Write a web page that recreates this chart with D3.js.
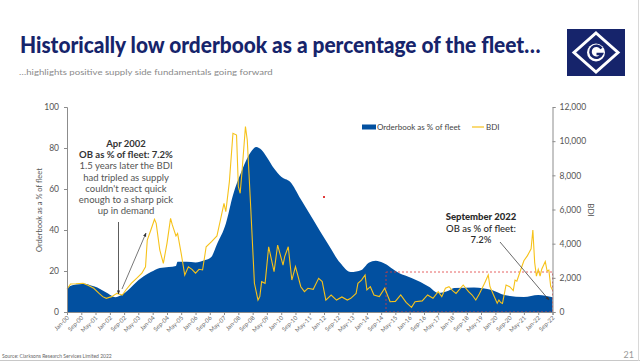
<!DOCTYPE html>
<html>
<head>
<meta charset="utf-8">
<script src="https://cdn.jsdelivr.net/npm/d3@7"></script>
<style>
  body { margin: 0; background: #fff; }
  svg { display: block; font-family: Lato, "Open Sans", sans-serif; }
</style>
</head>
<body>
<svg id="chart" width="640" height="361"></svg>
<script>
// Orderbook as % of fleet
const obDates = ["2000-01","2000-04","2000-08","2000-11","2001-03","2001-06","2001-09","2001-12","2002-04","2002-08",
  "2002-11","2003-02","2003-05","2003-08","2003-12","2004-05","2004-10","2005-02","2005-03","2005-08",
  "2006-01","2006-06","2006-10","2007-01","2007-06","2007-10","2008-03","2008-08","2008-11","2009-02",
  "2009-05","2009-09","2010-01","2010-06","2010-12","2011-07","2012-03","2012-10","2013-04","2013-10",
  "2014-02","2014-06","2014-10","2015-07","2016-02","2016-12","2017-05","2017-11","2018-02","2019-01",
  "2019-11","2020-06","2021-05","2022-01","2022-09"];
const obValues = [12,13,13.5,13.8,12.8,12,10.5,9,7.2,8.5,
  10.5,13,15.5,17.5,19.5,21.5,22,22.5,24.5,24.5,
  24.2,25.2,27,33,43,57,69,78,80.5,79,
  75.5,70,66,63.5,55,45,33.5,24,19.5,20.5,
  24,25,24,19,16.6,12.2,9.3,10.5,11.7,12,
  10.7,8.3,7.3,8.3,7.2];

// Baltic Dry Index
const bdiDates = ["2000-01","2000-03","2000-06","2000-10","2001-01","2001-04","2001-07","2001-09","2001-11","2002-02",
  "2002-05","2002-08","2002-10","2003-01","2003-04","2003-07","2003-09","2003-10","2003-12","2004-02",
  "2004-03","2004-05","2004-07","2004-09","2004-11","2004-12","2005-02","2005-03","2005-05","2005-07",
  "2005-09","2005-11","2006-01","2006-03","2006-05","2006-07","2006-10","2007-01","2007-03","2007-05",
  "2007-06","2007-08","2007-10","2007-12","2008-01","2008-02","2008-03","2008-05","2008-06","2008-08",
  "2008-10","2008-12","2009-01","2009-02","2009-04","2009-06","2009-09","2009-11","2010-02","2010-03",
  "2010-05","2010-07","2010-09","2010-12","2011-02","2011-04","2011-07","2011-10","2011-12","2012-02",
  "2012-05","2012-08","2012-11","2013-02","2013-04","2013-07","2013-08","2013-10","2013-12","2014-01",
  "2014-03","2014-05","2014-08","2014-11","2015-02","2015-05","2015-08","2015-11","2016-02","2016-04",
  "2016-08","2016-11","2017-02","2017-05","2017-07","2017-09","2017-11","2018-01","2018-03","2018-07",
  "2018-10","2018-12","2019-02","2019-04","2019-07","2019-09","2019-10","2019-12","2020-02","2020-03",
  "2020-04","2020-05","2020-07","2020-09","2020-11","2020-12","2021-01","2021-03","2021-05","2021-07",
  "2021-08","2021-09","2021-10","2021-11","2021-12","2022-01","2022-02","2022-03","2022-05","2022-06",
  "2022-07","2022-08","2022-09"];
const bdiValues = [1330,1640,1650,1680,1550,1390,1090,900,800,900,
  1090,995,1290,1680,1970,2270,2650,4215,4800,5425,
  5190,3630,2850,4020,5485,5100,4450,4600,3435,2165,
  2650,2500,2270,2500,2460,3820,4115,4450,5385,6360,
  5870,7630,10460,10360,7340,6950,8120,10850,10070,5970,
  1680,700,900,1775,1680,3820,2360,3920,2750,3240,
  3820,1870,2650,1480,1190,1390,1330,1970,1780,700,
  995,700,880,700,800,1090,1680,1870,2165,1290,
  1480,995,900,1390,600,620,995,560,275,600,
  650,995,800,1190,900,1390,1480,1250,1090,1580,
  1190,995,700,1050,1680,2165,1480,995,510,700,
  550,500,1580,1480,1250,1870,1800,2400,3000,3300,
  3500,3700,4800,2900,2100,2500,2100,2500,2950,2400,
  2450,1500,1290];

const xTickLabels = ["Jan-00","Sep-00","May-01","Jan-02","Sep-02","May-03","Jan-04","Sep-04","May-05","Jan-06",
  "Sep-06","May-07","Jan-08","Sep-08","May-09","Jan-10","Sep-10","May-11","Jan-12","Sep-12",
  "May-13","Jan-14","Sep-14","May-15","Jan-16","Sep-16","May-17","Jan-18","Sep-18","May-19",
  "Jan-20","Sep-20","May-21","Jan-22","Sep-22"];
const leftTicks = [0, 20, 40, 60, 80, 100];
const rightTicks = [0, 2000, 4000, 6000, 8000, 10000, 12000];

const navy = "#16246b", blue = "#0250a0", gold = "#f6c21a";
const parseMonth = d3.timeParse("%Y-%m");
const parseTick = d3.timeParse("%b-%y");

const ob = obDates.map((d, i) => ({ date: parseMonth(d), v: obValues[i] }));
const bdi = bdiDates.map((d, i) => ({ date: parseMonth(d), v: bdiValues[i] }));

const svg = d3.select("#chart");
const pL = 67, pR = 552.5, pT = 107, pB = 312;

const x = d3.scaleTime().domain([parseMonth("2000-01"), parseMonth("2022-09")]).range([pL, pR]);
const yL = d3.scaleLinear().domain([0, 100]).range([pB, pT]);
const yR = d3.scaleLinear().domain([0, 12000]).range([pB, pT]);

// header: squeeze the text horizontally to the width it has in the slide
function fitText(sel, width) {
  const w = sel.node().getComputedTextLength();
  const tx = +sel.attr("x"), ty = +sel.attr("y");
  sel.attr("x", 0).attr("y", 0).attr("transform", `translate(${tx},${ty}) scale(${width / w},1)`);
}
const title = svg.append("text").attr("x", 20).attr("y", 53).attr("fill", navy)
  .attr("font-size", 23).attr("font-weight", 900)
  .text("Historically low orderbook as a percentage of the fleet…");
fitText(title, 521);
const sub = svg.append("text").attr("x", 19).attr("y", 75).attr("fill", "#8a8a8a")
  .attr("font-size", 8.5)
  .text("…highlights positive supply side fundamentals going forward");
fitText(sub, 254);

// logo
const logo = svg.append("g").attr("transform", "translate(567,29)");
logo.append("rect").attr("width", 58).attr("height", 47).attr("fill", navy);
logo.append("path").attr("d", "M29,4 L51,23.5 L29,43 L7,23.5 Z").attr("fill", "none").attr("stroke", "#fff").attr("stroke-width", 3);
logo.append("circle").attr("cx", 29).attr("cy", 23.5).attr("r", 9).attr("fill", "#fff");
logo.append("path").attr("d", "M34.5,19.5 A6,6 0 1 0 35,25 L29.5,25")
  .attr("fill", "none").attr("stroke", navy).attr("stroke-width", 2.6);

// area
svg.append("path").datum(ob).attr("fill", blue)
  .attr("d", d3.area().x(d => x(d.date)).y0(pB).y1(d => yL(d.v)).curve(d3.curveMonotoneX));

// red dashed box
svg.append("rect").attr("x", 386).attr("y", 272).attr("width", pR - 386).attr("height", pB - 272)
  .attr("fill", "none").attr("stroke", "#e03a3a").attr("stroke-width", 0.8).attr("stroke-dasharray", "2,2");
svg.append("rect").attr("x", 323).attr("y", 196).attr("width", 2).attr("height", 2).attr("fill", "#e03a3a");

// BDI line
svg.append("path").datum(bdi).attr("fill", "none").attr("stroke", gold).attr("stroke-width", 1.1)
  .attr("d", d3.line().x(d => x(d.date)).y(d => yR(d.v)));

// axes
const axisColor = "#8c8c8c";
const gL = svg.append("g").attr("transform", `translate(${pL},0)`)
  .call(d3.axisLeft(yL).tickValues(leftTicks).tickSize(3).tickFormat(d3.format("d")));
const gR = svg.append("g").attr("transform", `translate(${pR},0)`)
  .call(d3.axisRight(yR).tickValues(rightTicks).tickSize(3).tickFormat(d3.format(",")));
const gX = svg.append("g").attr("transform", `translate(0,${pB})`)
  .call(d3.axisBottom(x).tickValues(xTickLabels.map(parseTick)).tickSize(3).tickFormat(d3.timeFormat("%b-%y")));

[gL, gR, gX].forEach(g => {
  g.select(".domain").attr("stroke", axisColor);
  g.selectAll(".tick line").attr("stroke", axisColor);
  g.selectAll("text").attr("fill", "#555").attr("font-family", "Lato, sans-serif");
});
gL.selectAll("text").attr("font-size", 8.5).attr("x", -8);
gR.selectAll("text").attr("font-size", 8.5).attr("x", 7);
gX.selectAll("text").attr("font-size", 6).attr("fill", "#666").attr("text-anchor", "end")
  .attr("transform", "rotate(-45)").attr("x", -3).attr("y", 4).attr("dy", "0.3em");

svg.append("text").attr("transform", "translate(42,210) rotate(-90)").attr("text-anchor", "middle")
  .attr("font-size", 7.5).attr("fill", "#555").text("Orderbook as a % of fleet");
svg.append("text").attr("transform", "translate(588,210) rotate(90)").attr("text-anchor", "middle")
  .attr("font-size", 8).attr("fill", "#555").text("BDI");

// legend
svg.append("rect").attr("x", 362).attr("y", 124.5).attr("width", 14).attr("height", 5).attr("fill", blue);
svg.append("text").attr("x", 377).attr("y", 130).attr("font-size", 8).attr("fill", "#444").text("Orderbook as % of fleet");
svg.append("line").attr("x1", 472).attr("x2", 484).attr("y1", 127).attr("y2", 127).attr("stroke", gold).attr("stroke-width", 1.2);
svg.append("text").attr("x", 486).attr("y", 130).attr("font-size", 8).attr("fill", "#444").text("BDI");

// arrows
const defs = svg.append("defs");
defs.append("marker").attr("id", "arr").attr("viewBox", "0 0 10 10").attr("refX", 9).attr("refY", 5)
  .attr("markerWidth", 5).attr("markerHeight", 5).attr("orient", "auto")
  .append("path").attr("d", "M0,1 L10,5 L0,9 Z").attr("fill", "#333");
const arrow = (x1, y1, x2, y2, c) => svg.append("line").attr("x1", x1).attr("y1", y1).attr("x2", x2).attr("y2", y2)
  .attr("stroke", c).attr("stroke-width", 0.8).attr("marker-end", "url(#arr)");
arrow(118.5, 222, 118.5, 294, "#333");
arrow(122, 289, 146, 233, "#555");
arrow(500, 242, 549, 300, "#444");

// annotations
const note1 = [["Apr 2002", true], ["OB as % of fleet: 7.2%", true], ["1.5 years later the BDI", false],
  ["had tripled as supply", false], ["couldn't react quick", false], ["enough to a sharp pick", false], ["up in demand", false]];
note1.forEach((l, i) => svg.append("text").attr("x", 126).attr("y", 147 + i * 11.2).attr("text-anchor", "middle")
  .attr("font-size", 9.5).attr("font-weight", l[1] ? 700 : 400).attr("fill", l[1] ? "#333" : "#555").text(l[0]));
const note2 = [["September 2022", 900], ["OB as % of fleet:", 500], ["7.2%", 500]];
note2.forEach((l, i) => svg.append("text").attr("x", 481).attr("y", 220 + i * 11.5).attr("text-anchor", "middle")
  .attr("font-size", 9.5).attr("font-weight", l[1]).attr("fill", "#2a2a2a").text(l[0]));

// footer
svg.append("text").attr("x", 2).attr("y", 358).attr("font-size", 5).attr("fill", "#666")
  .text("Source: Clarksons Research Services Limited 2022");
svg.append("text").attr("x", 634).attr("y", 358).attr("text-anchor", "end").attr("font-size", 9).attr("fill", "#999").text("21");
svg.append("line").attr("x1", 0).attr("x2", 640).attr("y1", 360.5).attr("y2", 360.5).attr("stroke", "#c8c8c8");
svg.append("line").attr("x1", 638.5).attr("x2", 638.5).attr("y1", 0).attr("y2", 361).attr("stroke", "#d8d8d8");
</script>
</body>
</html>
